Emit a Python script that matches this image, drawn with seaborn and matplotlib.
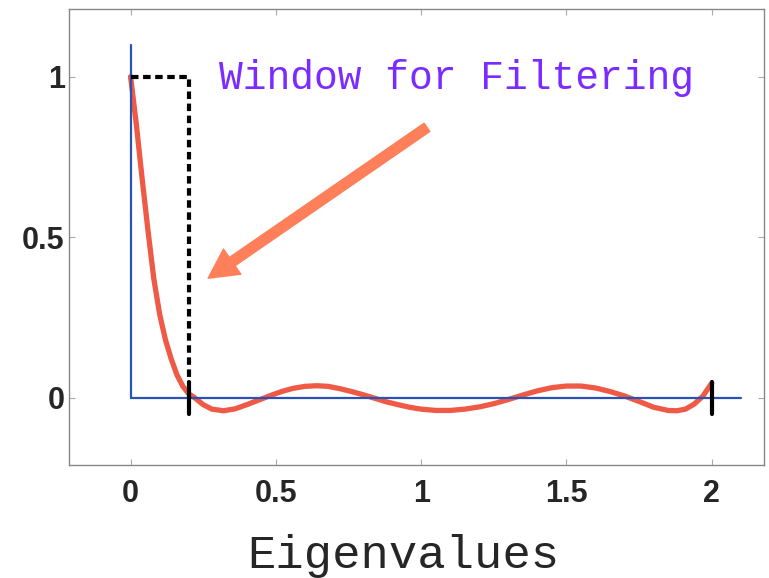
import matplotlib
matplotlib.use("Agg")
import matplotlib.pyplot as plt
import pandas as pd
import seaborn as sns

# ---- data ----
eig_x = [0.00, 0.02, 0.04, 0.06, 0.08, 0.10, 0.12, 0.14, 0.16, 0.18,
         0.20, 0.22, 0.25, 0.28, 0.32, 0.36, 0.40, 0.44, 0.48, 0.52,
         0.56, 0.60, 0.64, 0.68, 0.72, 0.76, 0.80, 0.84, 0.88, 0.92,
         0.96, 1.00, 1.05, 1.10, 1.15, 1.20, 1.25, 1.30, 1.35, 1.40,
         1.45, 1.50, 1.55, 1.60, 1.65, 1.70, 1.75, 1.80, 1.85, 1.88,
         1.91, 1.94, 1.97, 2.00]
filter_y = [1.00, 0.85, 0.68, 0.52, 0.37, 0.26, 0.18, 0.12, 0.07, 0.035,
            0.012, 0.000, -0.022, -0.036, -0.041, -0.035, -0.022, -0.008, 0.006, 0.019,
            0.029, 0.035, 0.037, 0.035, 0.028, 0.019, 0.009, -0.002, -0.013, -0.022,
            -0.030, -0.036, -0.040, -0.040, -0.036, -0.029, -0.019, -0.006, 0.008, 0.021,
            0.031, 0.036, 0.036, 0.030, 0.019, 0.005, -0.012, -0.030, -0.040, -0.041,
            -0.036, -0.020, 0.005, 0.045]

window_x = [0.0, 0.2, 0.2]        # ideal window (dashed)
window_y = [1.0, 1.0, 0.05]
interval_ends = [0.2, 2.0]        # solid black marks
mark_y = [-0.05, 0.05]
vaxis_y = [0.0, 1.1]               # blue axis lines
haxis_x = [0.0, 2.1]

xticks = [0, 0.5, 1, 1.5, 2]
xticklabels = ["0", "0.5", "1", "1.5", "2"]
yticks = [0, 0.5, 1]
yticklabels = ["0", "0.5", "1"]

arrow_tail = (1.02, 0.842)
arrow_tip = (0.267, 0.372)

df = pd.DataFrame({"eig": eig_x, "h": filter_y})

# ---- style ----
sns.set_style("ticks", {"xtick.direction": "in", "ytick.direction": "in"})
plt.rcParams["font.family"] = ["Liberation Sans", "DejaVu Sans"]

fig = plt.figure(figsize=(7.69, 5.78), dpi=100)
ax = fig.add_axes([0.0897, 0.1955, 0.9038, 0.7885])

# raw polyline helper: no aggregation, keep point order
def seg(x, y, **kw):
    sns.lineplot(x=x, y=y, ax=ax, estimator=None, sort=False, **kw)
    return ax.lines[-1]

# blue axes lines through origin
seg([0.0, 0.0], vaxis_y, color="#2a52b4", lw=1.6, zorder=3)
seg(haxis_x, [0.0, 0.0], color="#2a52b4", lw=1.6, zorder=3)

# filter response
sns.lineplot(data=df, x="eig", y="h", ax=ax, color="#ee5a45", lw=3.8,
             estimator=None, sort=False, zorder=2)

# ideal window
seg(window_x, window_y, color="black", lw=3.0, zorder=4).set_dashes((1.8, 1.1))
for xe in interval_ends:
    seg([xe, xe], mark_y, color="black", lw=3.0, zorder=4)

ax.annotate("", xy=arrow_tip, xytext=arrow_tail,
            arrowprops=dict(color="#ff7f5a", width=7.2, headwidth=22,
                            headlength=21, shrink=0))

ax.text(0.305, 0.962, "Window for Filtering", family="Liberation Mono",
        fontsize=28.5, color="#7b2bff", va="baseline", ha="left")

ax.set_xlim(-0.212, 2.18)
ax.set_ylim(-0.21, 1.21)
ax.set_xticks(xticks)
ax.set_xticklabels(xticklabels, fontsize=22, fontweight="bold")
ax.set_yticks(yticks)
ax.set_yticklabels(yticklabels, fontsize=22, fontweight="bold")
ax.tick_params(axis="both", which="both", direction="in", length=4,
               color="#aaaaaa", top=True, right=True)
ax.tick_params(axis="x", pad=10)
ax.tick_params(axis="y", pad=3)
for sp in ax.spines.values():
    sp.set_visible(True)
    sp.set_color("#888888")
    sp.set_linewidth(1.0)

ax.set_xlabel("Eigenvalues", family="Liberation Mono", fontsize=34)
ax.xaxis.label.set_va("baseline")
ax.xaxis.set_label_coords(0.4806, -0.226)
ax.set_ylabel("")

fig.savefig("out.png", dpi=100)
